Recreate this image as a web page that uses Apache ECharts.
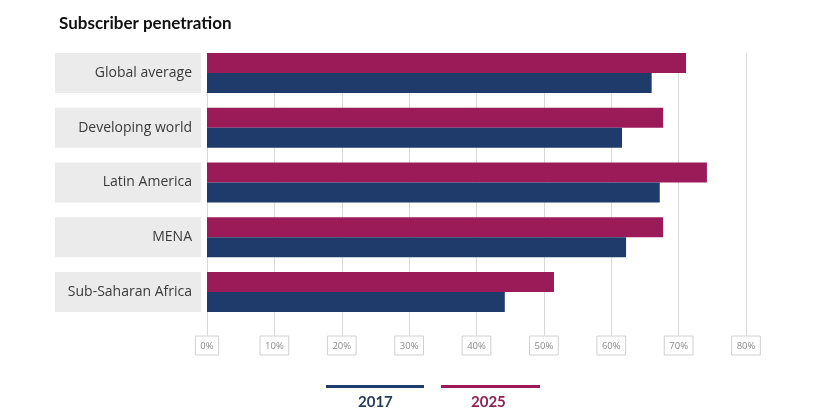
<!DOCTYPE html>
<html><head><meta charset="utf-8">
<script src="https://cdn.jsdelivr.net/npm/echarts@6/dist/echarts.min.js"></script>
<style>html,body{margin:0;padding:0;background:#fff}#c{width:816px;height:417px}</style>
</head><body><div id="c"></div>
<script>
const categories = ['Global average','Developing world','Latin America','MENA','Sub-Saharan Africa'];
const seriesNames = ['2025','2017'];
const values2025 = [71.1, 67.7, 74.2, 67.7, 51.5];
const values2017 = [66.0, 61.6, 67.2, 62.2, 44.2];
const xTicks = [0,10,20,30,40,50,60,70,80];
const colors = {'2017':'#1e3b6b','2025':'#9b1b59'};

const chart = echarts.init(document.getElementById('c'));
const xBase = {min:0,max:80,interval:10};
chart.setOption({
  animation:false,
  title:{text:'Subscriber penetration',left:54,top:10,textStyle:{fontFamily:'Lato',fontWeight:'bold',fontSize:17,color:'#111'}},
  grid:[
    {left:207,right:70,top:45.5,bottom:97.5},
    {left:207,right:70,top:53,bottom:81}
  ],
  xAxis:[
    Object.assign({type:'value',gridIndex:0,show:false},xBase),
    Object.assign({type:'value',gridIndex:1,axisLine:{show:false},axisTick:{show:false},
      splitLine:{show:true,lineStyle:{color:'#d9d9d9',width:1}},
      axisLabel:{margin:0,formatter:v=>xTicks.includes(v)?v+'%':'',color:'#8a8a8a',fontFamily:'Open Sans',fontSize:9.5,
        borderColor:'#d0d0d0',borderWidth:1,padding:[5,5,4,5]}},xBase)
  ],
  yAxis:[
    {type:'category',gridIndex:0,data:categories,inverse:true,axisLine:{show:false},axisTick:{show:false},
      axisLabel:{margin:6,color:'#3a3a3a',fontFamily:'Open Sans',fontSize:14,backgroundColor:'#ebebeb',
        width:137,height:40,lineHeight:40,align:'right',padding:[0,9,0,0]}},
    {type:'category',gridIndex:1,data:categories,show:false}
  ],
  series:[
    {name:seriesNames[0],type:'bar',xAxisIndex:0,yAxisIndex:0,data:values2025,barWidth:20,barGap:'0%',itemStyle:{color:colors['2025']}},
    {name:seriesNames[1],type:'bar',xAxisIndex:0,yAxisIndex:0,data:values2017,barWidth:20,barGap:'0%',itemStyle:{color:colors['2017']}}
  ],
  graphic:[
    {type:'rect',left:326,top:385,shape:{width:98,height:3},style:{fill:colors['2017']}},
    {type:'text',left:358,top:395,style:{text:'2017',fill:'#2a3b5a',font:'bold 15px Lato'}},
    {type:'rect',left:441,top:385,shape:{width:99,height:3},style:{fill:colors['2025']}},
    {type:'text',left:471,top:395,style:{text:'2025',fill:'#8c2356',font:'bold 15px Lato'}}
  ]
});
</script></body></html>
